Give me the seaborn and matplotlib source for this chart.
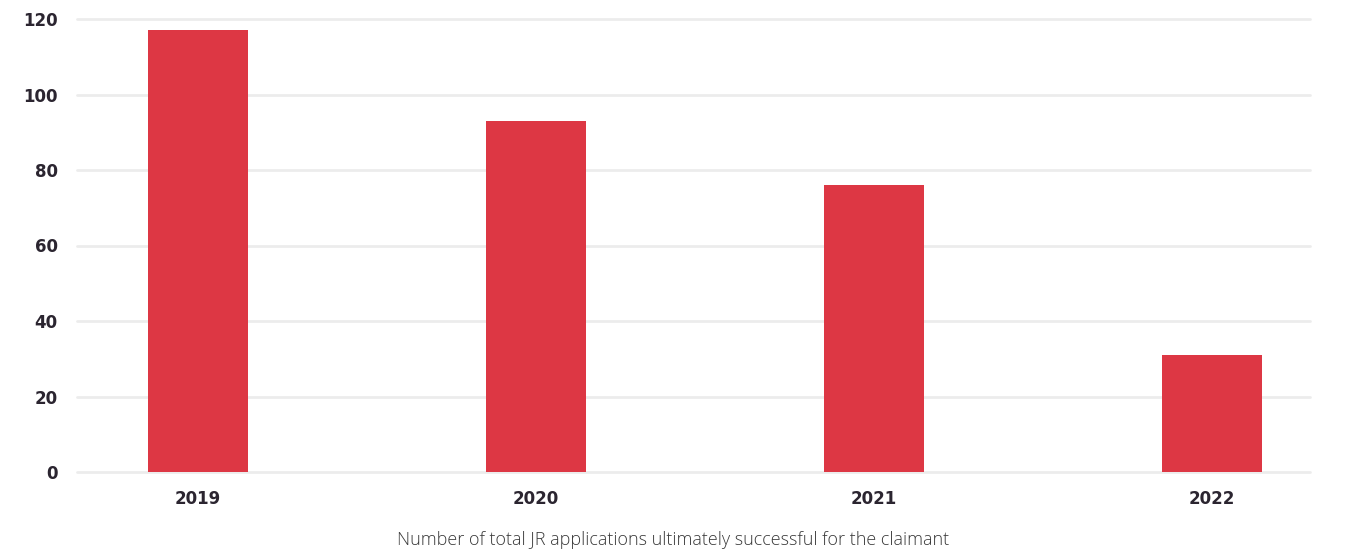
import matplotlib
matplotlib.use("Agg")
import matplotlib.pyplot as plt
import seaborn as sns
import pandas as pd

years = ["2019", "2020", "2021", "2022"]
values = [117, 93, 76, 31]
yticks = [0, 20, 40, 60, 80, 100, 120]
caption = "Number of total JR applications ultimately successful for the claimant"

sns.set_theme(style="white")
plt.rcParams['font.family'] = ['DejaVu Sans']

df = pd.DataFrame({"year": years, "value": values})

fig = plt.figure(figsize=(13.48, 5.5), dpi=100)
ax = fig.add_axes([77/1348, 1-472/550, 1233/1348, (472-19)/550])

sns.barplot(data=df, x="year", y="value", color="#dd3744", width=0.296,
            saturation=1, linewidth=0, ax=ax, zorder=3)

ax.set_ylim(0, 120)
ax.set_xlim(-0.357, 3.29)
ax.set_yticks(yticks)
ax.yaxis.grid(True, color="#ececec", linewidth=2, zorder=0)
for gl in ax.yaxis.get_gridlines():
    gl.set_clip_on(False)
ax.set_axisbelow(True)
for s in ax.spines.values():
    s.set_visible(False)
ax.tick_params(axis="both", length=0, colors="#2b2530", labelsize=12)
ax.tick_params(axis="y", pad=14)
ax.tick_params(axis="x", pad=13)
for lab in ax.get_xticklabels() + ax.get_yticklabels():
    lab.set_fontweight("bold")
ax.set_xlabel("")
ax.set_ylabel("")
fig.text(673/1348, 1-540/550, caption, ha="center", va="center",
         fontsize=13, color="#3a3a3a", family="Open Sans", fontweight="light")

fig.savefig("out.png", dpi=100, facecolor="white")
